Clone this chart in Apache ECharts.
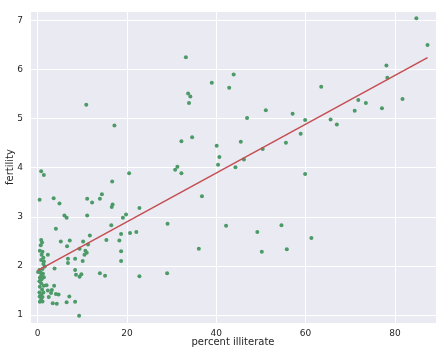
<!DOCTYPE html>
<html>
<head>
<meta charset="utf-8">
<script src="https://cdn.jsdelivr.net/npm/echarts@6/dist/echarts.min.js"></script>
<style>
  html, body { margin: 0; padding: 0; background: #fff; }
  #main { width: 442px; height: 353px; }
</style>
</head>
<body>
<div id="main"></div>
<script>
// percent illiterate (x) and fertility (y)
const illiterate = [
  84.8, 87.3, 78.1, 78.3, 63.5, 81.7, 71.8, 73.5, 71.0, 77.1, 57.1, 59.9, 65.6, 67.0, 58.9, 59.9, 61.3,
  33.2, 43.9, 39.0, 42.9, 33.7, 34.2, 33.9, 51.1, 46.9, 10.9, 34.6, 45.5, 55.6, 40.1, 40.7, 50.4,
  46.2, 40.4, 44.3, 36.8, 42.2, 54.6, 49.2, 36.1, 50.2, 55.8, 32.2, 31.3, 30.8, 32.2, 29.1, 29.0,
  20.5, 16.7, 17.2, 14.4, 13.95, 16.8, 16.6, 22.8, 19.8, 19.1, 16.5, 18.7, 20.7, 22.1, 15.4, 18.3,
  18.7, 18.7, 13.95, 15.1, 22.8,
  0.8, 1.4, 0.45, 3.6, 4.9, 6.0, 6.5, 11.1, 12.2, 11.1, 4.1, 11.7, 10.2, 11.3, 5.2, 7.2, 6.6, 9.4,
  10.7, 11.0, 10.5, 8.4, 10.1, 6.8, 6.8, 3.8, 8.4, 8.6, 9.8, 9.4, 2.3,
  0.8, 1.0, 0.7, 0.5, 1.1, 0.9, 1.3, 0.8, 1.4, 1.3, 1.6, 1.1, 0.4, 0.1, 0.7, 1.2, 0.8, 0.5, 1.4,
  0.9, 0.4, 0.8, 1.4, 0.5, 1.0, 0.4, 1.3, 0.8, 0.45, 1.1, 0.8, 0.5, 1.1,
  2.0, 2.3, 3.2, 3.7, 3.0, 4.1, 2.5, 3.4, 4.3, 4.7, 6.5, 7.1, 8.4, 9.3
];
const fertility = [
  7.04, 6.50, 6.08, 5.83, 5.65, 5.40, 5.38, 5.32, 5.16, 5.21, 5.10, 4.97, 4.98, 4.88, 4.69, 3.87, 2.57,
  6.25, 5.90, 5.73, 5.63, 5.51, 5.45, 5.32, 5.17, 5.01, 5.28, 4.62, 4.53, 4.51, 4.45, 4.22, 4.38,
  4.17, 4.06, 4.01, 3.42, 2.82, 2.83, 2.69, 2.35, 2.29, 2.34, 4.54, 4.02, 3.96, 3.89, 2.86, 1.85,
  3.89, 3.72, 4.86, 3.46, 3.37, 3.25, 3.20, 3.18, 3.05, 2.98, 2.83, 2.65, 2.67, 2.69, 2.53, 2.52,
  2.30, 2.10, 1.85, 1.80, 1.79,
  3.93, 3.85, 3.35, 3.38, 3.27, 3.03, 2.98, 3.37, 3.29, 3.03, 2.76, 2.62, 2.50, 2.44, 2.50, 2.52, 2.40, 2.35,
  2.31, 2.27, 2.23, 2.15, 2.10, 2.15, 2.06, 1.95, 1.92, 1.82, 1.83, 1.78, 2.23,
  2.53, 2.48, 2.42, 2.31, 2.29, 2.23, 2.17, 2.12, 2.09, 2.04, 1.99, 1.94, 1.92, 1.88, 1.87, 1.84, 1.80, 1.76, 1.77,
  1.73, 1.69, 1.65, 1.60, 1.58, 1.52, 1.46, 1.46, 1.42, 1.38, 1.37, 1.33, 1.27, 1.28,
  1.61, 1.50, 1.51, 1.60, 1.45, 1.43, 1.37, 1.24, 1.23, 1.42, 1.26, 1.38, 1.27, 0.99
];
// fitted line end points
const fitX = [0.1, 87.3];
const fitY = [1.91, 6.24];

const points = illiterate.map((x, i) => [x, fertility[i]]);
const fitLine = fitX.map((x, i) => [x, fitY[i]]);

const myChart = echarts.init(document.getElementById('main'));
const labelColor = '#262626';
const font = 'DejaVu Sans, Arial, sans-serif';

const option = {
  animation: false,
  grid: {
    left: 30, right: 6, top: 11, bottom: 30,
    show: true,
    backgroundColor: '#EAEAF2',
    borderWidth: 0,
    containLabel: false,
    outerBoundsMode: 'none'
  },
  xAxis: {
    type: 'value',
    min: -1.7,
    max: 89.2,
    splitNumber: 5,
    name: 'percent illiterate',
    nameLocation: 'middle',
    nameGap: 14,
    nameMoveOverlap: false,
    nameTextStyle: { color: labelColor, fontSize: 10, fontFamily: font },
    axisLine: { show: false },
    axisTick: { show: false },
    axisLabel: { color: labelColor, fontSize: 9, fontFamily: font, margin: 6, showMinLabel: false, showMaxLabel: false },
    splitLine: { show: true, lineStyle: { color: '#ffffff', width: 1 } }
  },
  yAxis: {
    type: 'value',
    min: 0.84,
    max: 7.19,
    splitNumber: 6,
    name: 'fertility',
    nameLocation: 'middle',
    nameGap: 15,
    nameMoveOverlap: false,
    nameTextStyle: { color: labelColor, fontSize: 10, fontFamily: font },
    axisLine: { show: false },
    axisTick: { show: false },
    axisLabel: { color: labelColor, fontSize: 9, fontFamily: font, margin: 7, showMinLabel: false, showMaxLabel: false },
    splitLine: { show: true, lineStyle: { color: '#ffffff', width: 1 } }
  },
  series: [
    {
      type: 'scatter',
      data: points,
      symbol: 'circle',
      symbolSize: 4,
      itemStyle: { color: '#4C9A67', opacity: 1 },
      z: 2
    },
    {
      type: 'line',
      data: fitLine,
      showSymbol: false,
      lineStyle: { color: '#C44E52', width: 1.5 },
      z: 3
    }
  ]
};
myChart.setOption(option, true);
</script>
</body>
</html>
